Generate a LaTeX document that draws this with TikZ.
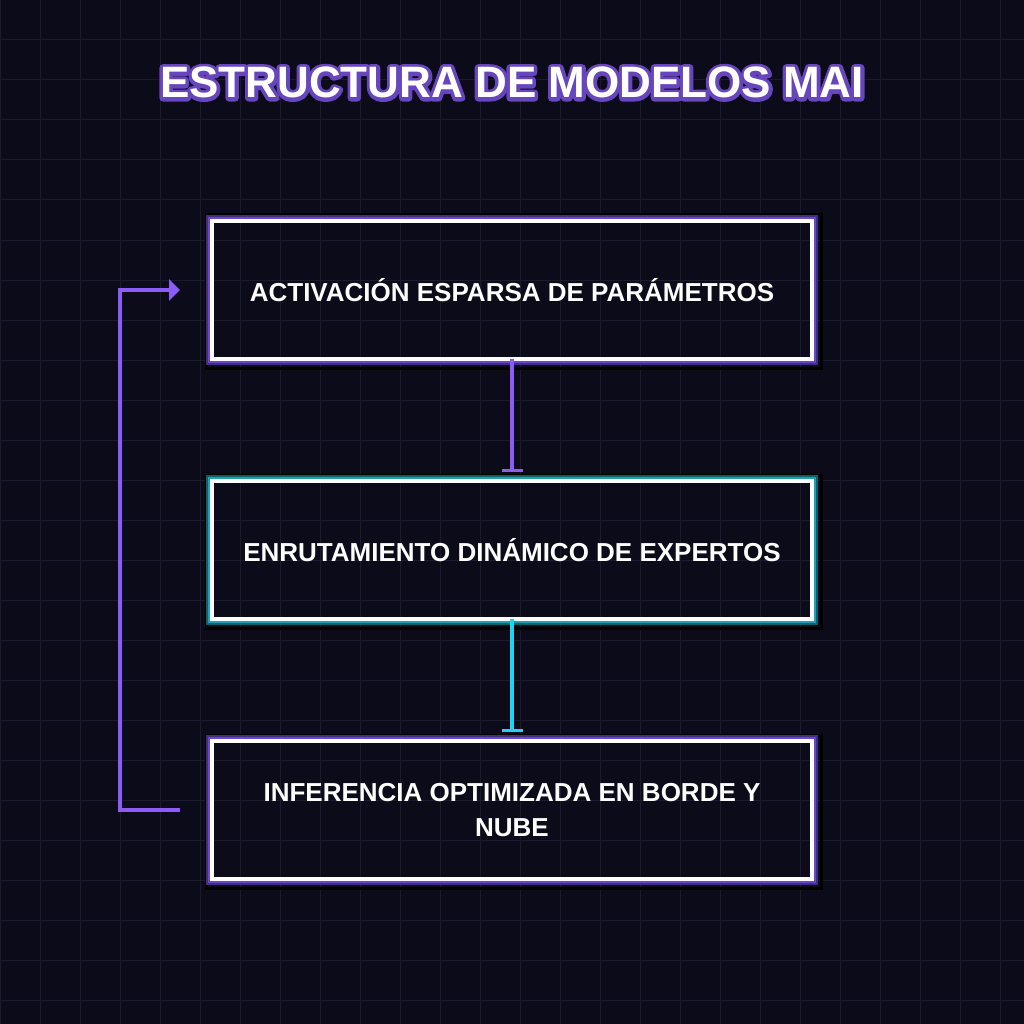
\documentclass[tikz,border=0pt]{standalone}
\usepackage{fontspec}
\setmainfont{Liberation Sans}
\usetikzlibrary{arrows.meta}

\definecolor{bgcol}{HTML}{0B0B19}
\definecolor{gridcol}{HTML}{1B1B2F}
\definecolor{violetline}{HTML}{8B5CF6}
\definecolor{cyanline}{HTML}{22D3EE}
\definecolor{violetglow}{HTML}{6A48C4}
\definecolor{violetdark}{HTML}{3F2D80}
\definecolor{cyanglow}{HTML}{1AA3B8}
\definecolor{cyandark}{HTML}{0F5F6B}

\tikzset{
  gridline/.style={draw=gridcol, line width=1pt},
  stagebox/.style={draw=white, line width=4pt, outer sep=0pt, minimum width=600pt,
    minimum height=138pt, align=center, text=white, font=\fontsize{26}{35}\selectfont\bfseries},
  titletext/.style={font=\fontsize{44}{50}\selectfont\bfseries, anchor=base, text=white},
  flowline/.style={line width=4pt},
}

% stroked letters for the title: #1 text
\newcommand{\strokedtext}[1]{\special{pdf:literal direct 7 w 1 j 0.40 0.27 0.74 RG 2 Tr}#1\special{pdf:literal direct 0 Tr 1 w}}

% glow round a box: #1 node, #2 light colour, #3 dark colour
\newcommand{\glowbox}[3]{%
  \draw[black, line width=3pt] ([xshift=-6pt,yshift=6pt]#1.north west) rectangle ([xshift=9pt,yshift=-9pt]#1.south east);
  \draw[#3, line width=2pt] ([xshift=-5pt,yshift=5pt]#1.north west) rectangle ([xshift=5pt,yshift=-5pt]#1.south east);
  \draw[#2, line width=2pt] ([xshift=-3pt,yshift=3pt]#1.north west) rectangle ([xshift=3pt,yshift=-3pt]#1.south east);
}

\begin{document}
\begin{tikzpicture}[x=1pt,y=-1pt]
        \useasboundingbox (0,0) rectangle (1024,1024);
        \fill[bgcol] (0,0) rectangle (1024,1024);
        
        % grid
        \foreach \g in {0,40,...,1000} {
          \draw[gridline] (\g,0) -- (\g,1024);
          \draw[gridline] (0,\g) -- (1024,\g);
        }
        
        % Title
        \node[titletext] (titleline) at (512,98) {\strokedtext{ESTRUCTURA DE MODELOS MAI}};
        \node[titletext] (title) at (512,98) {ESTRUCTURA DE MODELOS MAI};
        
        % Boxes
        \node[stagebox] (sparse) at (512,290) {ACTIVACIÓN ESPARSA DE PARÁMETROS};
        \node[stagebox] (routing) at (512,550) {ENRUTAMIENTO DINÁMICO DE EXPERTOS};
        \node[stagebox] (edge) at (512,810) {INFERENCIA OPTIMIZADA EN BORDE Y\\NUBE};
        \glowbox{sparse}{violetglow}{violetdark}
        \glowbox{routing}{cyanglow}{cyandark}
        \glowbox{edge}{violetglow}{violetdark}
        
        %Straight Lines
        \draw[flowline, violetline, -{Bar[width=21pt,line width=3pt]}] (sparse.south) -- ([yshift=9pt]routing.north);
        \draw[flowline, cyanline, -{Bar[width=21pt,line width=3pt]}] (routing.south) -- ([yshift=9pt]edge.north);
        
        % feedback loop
        \coordinate (loopin) at ([xshift=-32pt]sparse.west);
        \coordinate (loopout) at ([xshift=-32pt]edge.west);
        \draw[flowline, violetline, -{Triangle[length=11pt,width=21pt]}] (loopout) -- ++(-60,0) |- (loopin);
        
\end{tikzpicture}
\end{document}
